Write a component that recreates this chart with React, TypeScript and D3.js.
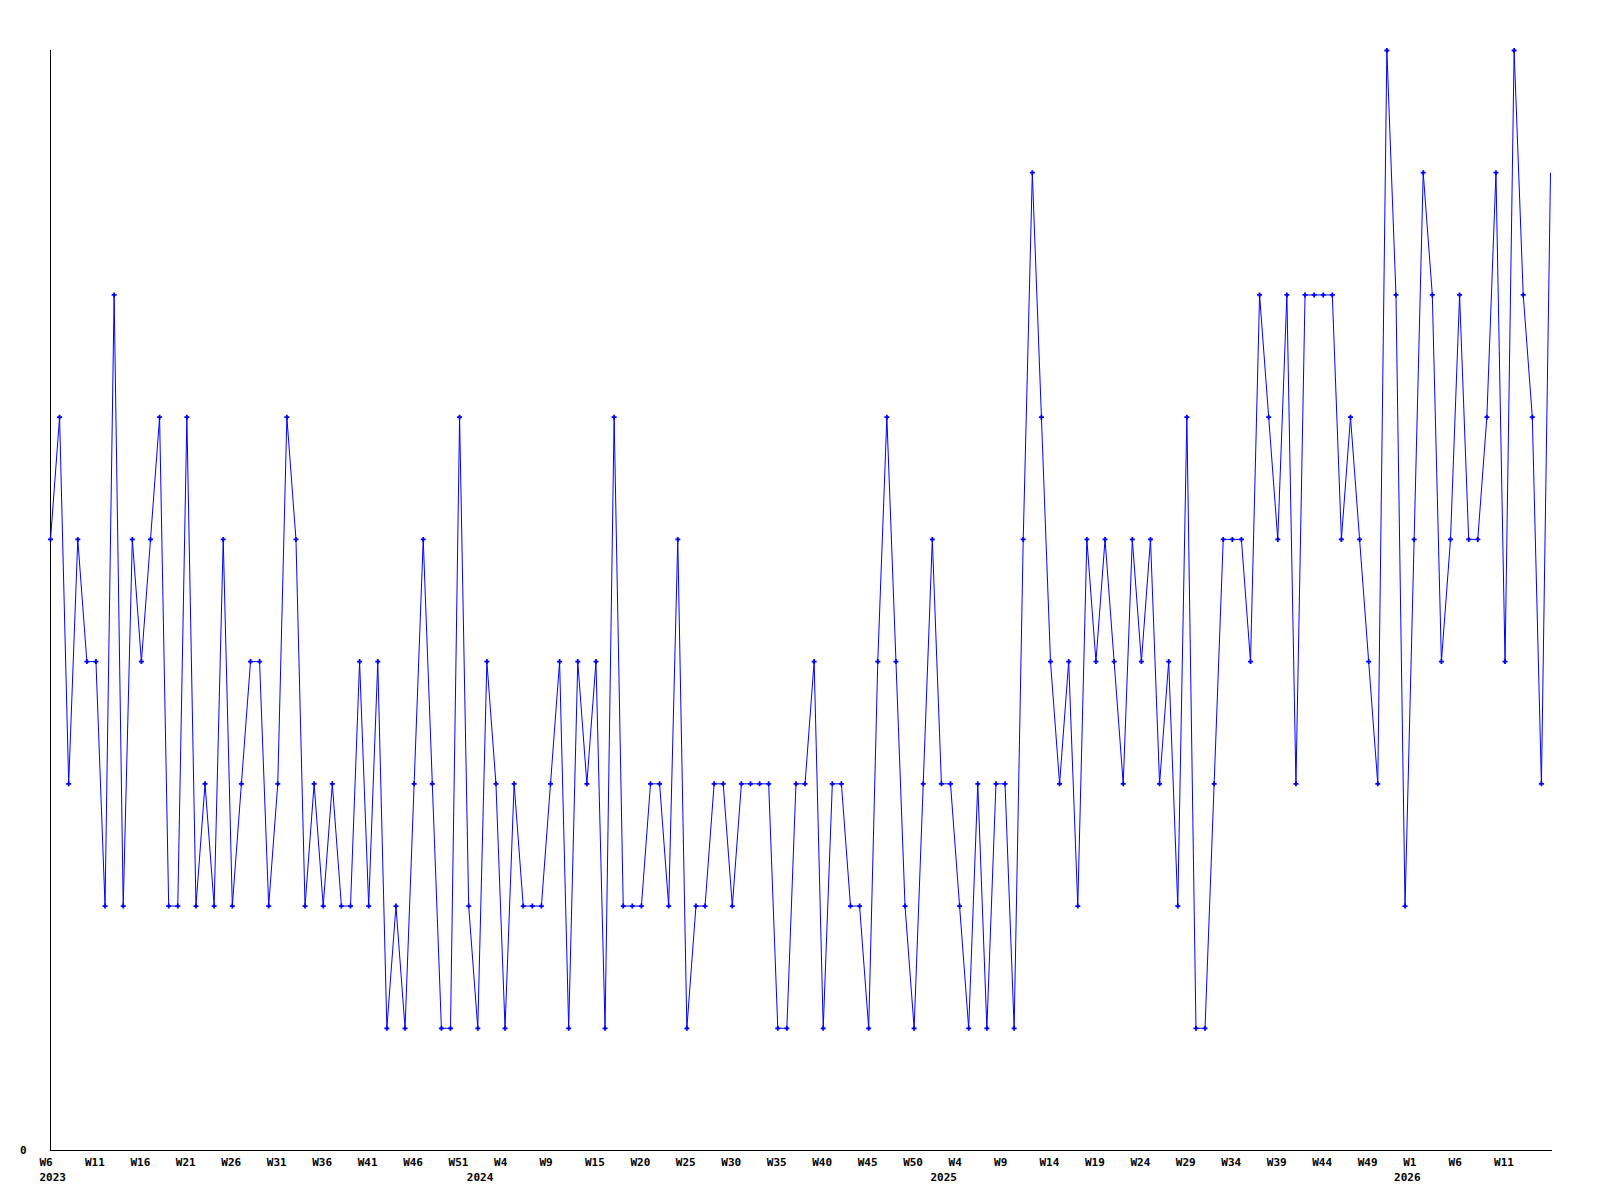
import React from "react";
import * as d3 from "d3";

const values: number[] = [
  5, 6, 3, 5, 4, 4, 2, 7, 2, 5, 4, 5, 6, 2, 2, 6, 2, 3, 2, 5, 2, 3, 4, 4, 2, 3, 6, 5, 2,
  3, 2, 3, 2, 2, 4, 2, 4, 1, 2, 1, 3, 5, 3, 1, 1, 6, 2, 1, 4, 3, 1, 3, 2, 2, 2, 3, 4,
  1, 4, 3, 4, 1, 6, 2, 2, 2, 3, 3, 2, 5, 1, 2, 2, 3, 3, 2, 3, 3, 3, 3, 1, 1, 3, 3,
  4, 1, 3, 3, 2, 2, 1, 4, 6, 4, 2, 1, 3, 5, 3, 3, 2, 1, 3, 1, 3, 3, 1, 5, 8, 6, 4, 3,
  4, 2, 5, 4, 5, 4, 3, 5, 4, 5, 3, 4, 2, 6, 1, 1, 3, 5, 5, 5, 4, 7, 6, 5, 7, 3,
  7, 7, 7, 7, 5, 6, 5, 4, 3, 9, 7, 2, 5, 8, 7, 4, 5, 7, 5, 5, 6, 8, 4, 9, 7, 6, 3, 8,
];

// week labels shown on every 5th point
const weekTickLabels: string[] = [
  "W6", "W11", "W16", "W21", "W26", "W31", "W36", "W41", "W46", "W51",
  "W4", "W9", "W15", "W20", "W25", "W30", "W35", "W40", "W45", "W50",
  "W4", "W9", "W14", "W19", "W24", "W29", "W34", "W39", "W44", "W49",
  "W1", "W6", "W11",
];
const tickEvery = 5;

const yearLabels: string[] = ["2023", "2024", "2025", "2026"];
const yearStartIndex: number[] = [0, 47, 98, 149];

const yMax = 9;

export default function App() {
  const W = 1600;
  const H = 1200;
  const left = 50.5;
  const right = 1550.5;
  const top = 50.5;
  const bottom = 1150.5;

  const x = d3.scaleLinear().domain([0, values.length - 1]).range([left, right]);
  const y = d3.scaleLinear().domain([0, yMax]).range([bottom, top]);

  const line = d3
    .line<number>()
    .x((_, i) => x(i))
    .y((d) => y(d));

  const font = "'DejaVu Sans Mono', monospace";

  return (
    <svg
      width={W}
      height={H}
      style={{ position: "absolute", left: 0, top: 0, background: "#fff" }}
    >
      <rect x={0} y={0} width={W} height={H} fill="#fff" />
      {/* axes */}
      <line x1={left} y1={top - 1} x2={left} y2={bottom} stroke="#000" strokeWidth={1} shapeRendering="crispEdges" />
      <line x1={left} y1={bottom} x2={right + 1} y2={bottom} stroke="#000" strokeWidth={1} shapeRendering="crispEdges" />
      <text x={20} y={1154} fontFamily={font} fontWeight="bold" fontSize={11} fill="#000">
        0
      </text>
      {/* data line */}
      <path d={line(values) || ""} fill="none" stroke="#0000ff" strokeWidth={1} />
      {/* markers */}
      {values.slice(0, values.length - 1).map((v, i) => {
        const cx = x(i);
        const cy = y(v);
        return (
          <path
            key={i}
            d={`M${cx - 2.5},${cy}H${cx + 2.5}M${cx},${cy - 2.5}V${cy + 2.5}`}
            stroke="#0000ff"
            strokeWidth={1.8}
            fill="none"
          />
        );
      })}
      {/* x tick labels */}
      {weekTickLabels.map((lab, k) => (
        <text
          key={"w" + k}
          x={x(k * tickEvery) - 11}
          y={1166}
          fontFamily={font}
          fontWeight="bold"
          fontSize={11}
          fill="#000"
        >
          {lab}
        </text>
      ))}
      {yearLabels.map((lab, k) => (
        <text
          key={"y" + k}
          x={x(yearStartIndex[k]) - 11}
          y={1181}
          fontFamily={font}
          fontWeight="bold"
          fontSize={11}
          fill="#000"
        >
          {lab}
        </text>
      ))}
    </svg>
  );
}
